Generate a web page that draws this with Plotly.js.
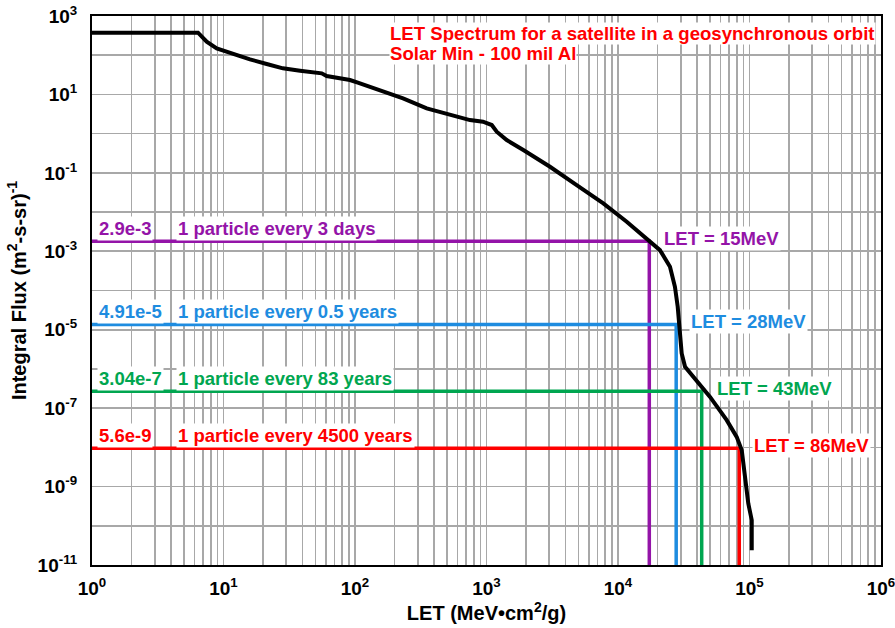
<!DOCTYPE html>
<html>
<head>
<meta charset="utf-8">
<script src="https://cdn.plot.ly/plotly-3.0.1.min.js"></script>
<style>
  html, body { margin: 0; padding: 0; background: #fff; }
  #chart { width: 895px; height: 628px; }
</style>
</head>
<body>
<div id="chart"></div>
<script>
// ---- Data ----
const curveLET = [1, 6.4, 6.9, 7.45, 8.88, 11.8, 15.9, 21.3, 28.3, 38.2, 55.8, 60.9, 91.6, 105, 163, 232, 351, 528, 749, 940, 1096, 1196, 1425, 1905, 3040, 4850, 7730, 11650, 16500, 20850, 24850, 27100, 28450, 29250, 30500, 32350, 39650, 50100, 67100, 79900, 87300, 92400, 97900, 104000, 104000];
const curveFlux = [375, 375, 290, 221, 150, 107, 78.5, 59.7, 46.3, 40.2, 34.5, 29.5, 23.3, 19.9, 11.7, 7.96, 4.42, 2.98, 2.22, 2.01, 1.66, 1.12, 0.687, 0.382, 0.143, 0.0489, 0.0167, 0.00566, 0.00213, 0.00107, 4.03e-4, 1.24e-4, 3.84e-5, 9.77e-6, 2.48e-6, 1.13e-6, 5.18e-7, 1.94e-7, 4.94e-8, 1.85e-8, 8.49e-9, 1.77e-9, 3.71e-10, 1.39e-10, 2.39e-11];

const markLET   = [17300, 27700, 43300, 83600];
const markFlux  = [1.8e-3, 1.35e-5, 2.7e-7, 9.5e-9];
const fluxLabels   = ['2.9e-3', '4.91e-5', '3.04e-7', '5.6e-9'];
const periodLabels = ['1 particle every 3 days', '1 particle every 0.5 years', '1 particle every 83 years', '1 particle every 4500 years'];
const letLabels    = ['LET = 15MeV', 'LET = 28MeV', 'LET = 43MeV', 'LET = 86MeV'];
const markColors   = ['#9414A8', '#1E8CE0', '#00A650', '#FF0000'];

const titleLines = ['LET Spectrum for a satellite in a geosynchronous orbit', 'Solar Min - 100 mil Al'];

const xTickExp = [0, 1, 2, 3, 4, 5, 6];
const yTickExp = [3, 2, 1, 0, -1, -2, -3, -4, -5, -6, -7, -8, -9, -10, -11];

// ---- Tick construction ----
const xTickVals = [], xTickText = [];
xTickExp.forEach((e, i) => {
  for (let m = 1; m <= 9; m++) {
    if (i === xTickExp.length - 1 && m > 1) break;
    xTickVals.push(m * Math.pow(10, e));
    xTickText.push(m === 1 ? '10<sup>' + e + '</sup>' : '');
  }
});
const yTickVals = yTickExp.map(e => Math.pow(10, e));
const yTickText = yTickExp.map(e => (Math.abs(e) % 2 === 1) ? '10<sup>' + e + '</sup>' : '');

const FONT = 'Liberation Sans, Arial, sans-serif';
const xmin = 1, ymin = 1e-11;

const traces = [];
markLET.forEach((L, i) => {
  traces.push({
    x: [xmin, L, L], y: [markFlux[i], markFlux[i], ymin],
    mode: 'lines', line: { color: markColors[i], width: 3.5 },
    hoverinfo: 'skip', showlegend: false
  });
});
traces.push({
  x: curveLET, y: curveFlux, mode: 'lines',
  line: { color: '#000', width: 4, shape: 'linear' },
  hoverinfo: 'skip', showlegend: false
});

const annotations = [];
titleLines.forEach((t, i) => {
  annotations.push({
    xref: 'paper', yref: 'paper', x: (389 - 92) / 789, y: 1 - ((33 + i * 20) - 16) / 549,
    xanchor: 'left', yanchor: 'middle', text: '<b>' + t + '</b>', showarrow: false,
    font: { family: FONT, size: 18.6, color: '#FF0000' }, bgcolor: '#fff', borderpad: 0
  });
});
markLET.forEach((L, i) => {
  const ly = Math.log10(markFlux[i]);
  annotations.push({
    x: 0, y: ly, xanchor: 'left', yanchor: 'middle', xshift: 5, yshift: 13,
    text: '<b>' + fluxLabels[i] + '</b>', showarrow: false,
    font: { family: FONT, size: 18.5, color: markColors[i] }, bgcolor: '#fff', borderpad: 1
  });
  annotations.push({
    x: (177 - 92) / 131.5, y: ly, xanchor: 'left', yanchor: 'middle', xshift: -1, yshift: 13,
    text: '<b>' + periodLabels[i] + '</b>', showarrow: false,
    font: { family: FONT, size: 18.5, color: markColors[i] }, bgcolor: '#fff', borderpad: 1
  });
  annotations.push({
    x: Math.log10(L), y: ly, xanchor: 'left', yanchor: 'middle', xshift: 13, yshift: 3,
    text: '<b>' + letLabels[i] + '</b>', showarrow: false,
    font: { family: FONT, size: 18.5, color: markColors[i] }, bgcolor: '#fff', borderpad: 1
  });
});

const layout = {
  width: 895, height: 628,
  margin: { l: 92, r: 14, t: 16, b: 63 },
  paper_bgcolor: '#fff', plot_bgcolor: '#fff',
  showlegend: false,
  font: { family: FONT, color: '#000' },
  xaxis: {
    type: 'log', range: [0, 6], tickmode: 'array', tickvals: xTickVals, ticktext: xTickText,
    showgrid: true, gridcolor: '#A8A8A8', gridwidth: 1.6,
    showline: true, linecolor: '#000', linewidth: 2, mirror: true,
    ticks: '', ticklabelstandoff: 5, zeroline: false, ticklabeloverflow: 'allow',
    tickfont: { family: FONT, size: 19, color: '#000', weight: 'bold' },
    title: { text: '<b>LET (MeV•cm<sup>2</sup>/g)</b>', font: { family: FONT, size: 20, color: '#000' }, standoff: 6 }
  },
  yaxis: {
    type: 'log', range: [-11, 3], tickmode: 'array', tickvals: yTickVals, ticktext: yTickText,
    showgrid: true, gridcolor: '#A8A8A8', gridwidth: 1.6,
    showline: true, linecolor: '#000', linewidth: 2, mirror: true,
    ticks: '', ticklabelstandoff: 9, zeroline: false, ticklabeloverflow: 'allow',
    tickfont: { family: FONT, size: 19, color: '#000', weight: 'bold' },
    title: { text: '<b>Integral Flux (m<sup>2</sup>-s-sr)<sup>-1</sup></b>', font: { family: FONT, size: 20, color: '#000' }, standoff: 6 }
  },
  annotations: annotations
};

Plotly.newPlot('chart', traces, layout, { staticPlot: true, displayModeBar: false });
</script>
</body>
</html>
